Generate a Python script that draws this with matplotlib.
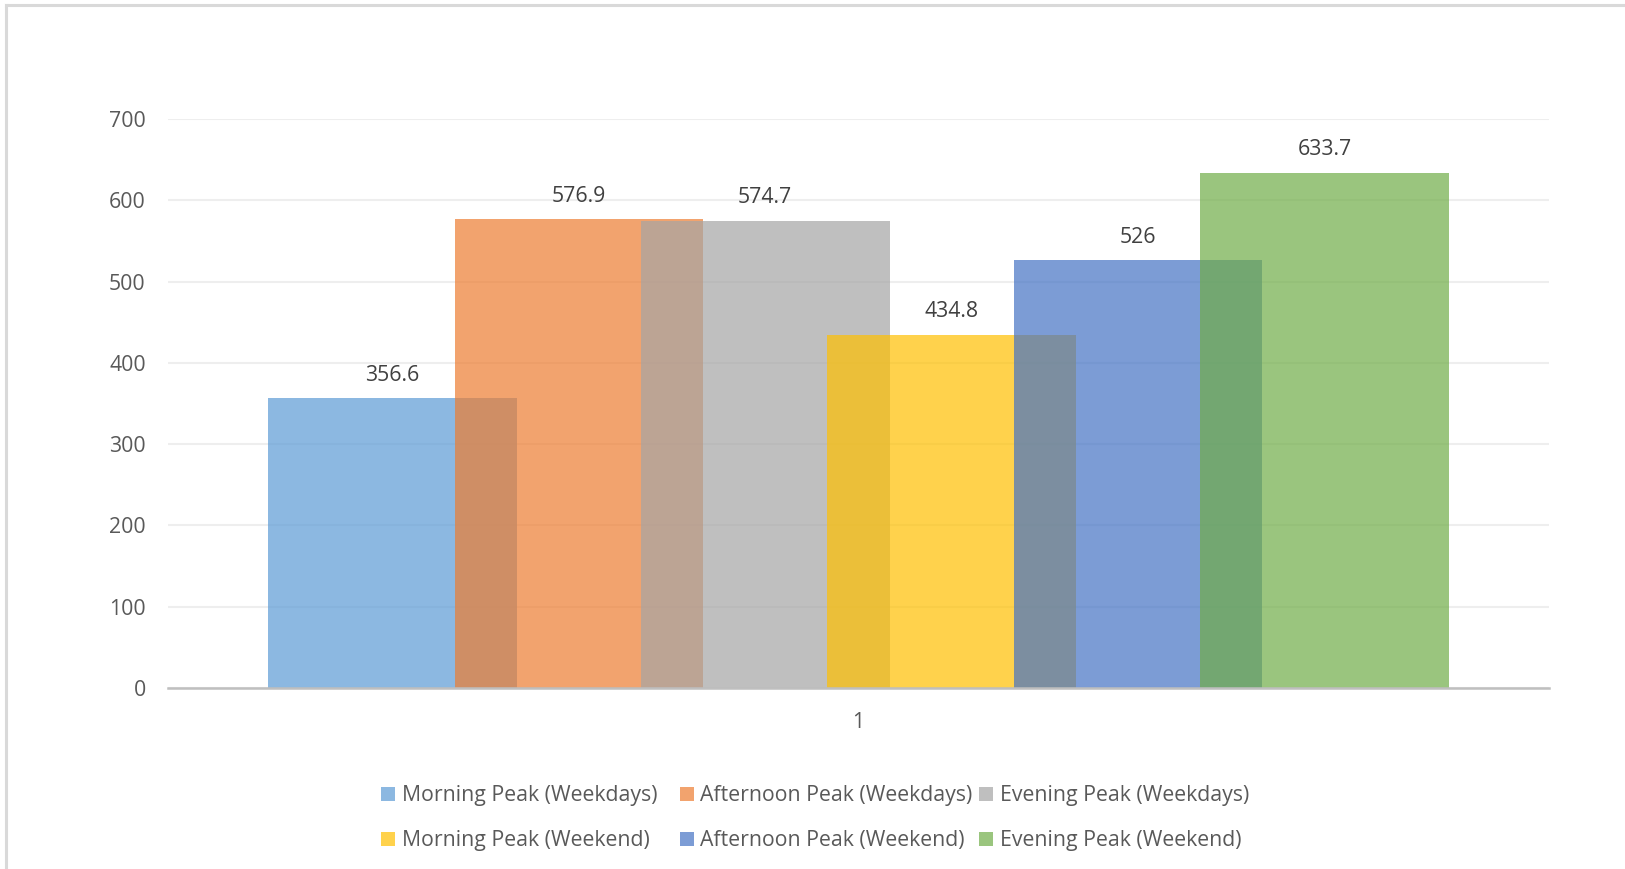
import matplotlib.pyplot as plt
from matplotlib.lines import Line2D

plt.rcParams['font.family'] = ['Open Sans', 'DejaVu Sans']

# peak-hour values, one category
series_names = ['Morning Peak (Weekdays)', 'Afternoon Peak (Weekdays)', 'Evening Peak (Weekdays)',
                'Morning Peak (Weekend)', 'Afternoon Peak (Weekend)', 'Evening Peak (Weekend)']
values = [356.6, 576.9, 574.7, 434.8, 526, 633.7]
colors = ['#5B9BD5', '#ED7D31', '#A5A5A5', '#FFC000', '#4472C4', '#70AD47']
category = ['1']
y_ticks = [0, 100, 200, 300, 400, 500, 600, 700]

fs = 15.3

fig = plt.figure(figsize=(16.25, 8.69), dpi=100)
ax = fig.add_axes([0.1034, 0.2083, 0.8498, 0.6548])

bar_w = 0.18
step = 0.135
bars = []
for i, (name, v, c) in enumerate(zip(series_names, values, colors)):
    x = (i - 2.5) * step
    b = ax.bar(x, v, width=bar_w, color=c, alpha=0.7, label=name, zorder=2, linewidth=0)
    bars.append(b)
    ax.annotate(f'{v:g}', (x, v), xytext=(0, 9), textcoords='offset points',
                ha='center', va='bottom', fontsize=fs, color='#404040')

ax.set_xlim(-0.5, 0.5)
ax.set_ylim(0, 700)
ax.set_yticks(y_ticks)
ax.set_xticks([0])
ax.set_xticklabels(category)
ax.tick_params(axis='both', length=0, labelsize=fs, labelcolor='#595959')
ax.tick_params(axis='y', pad=16)
ax.tick_params(axis='x', pad=17)
ax.yaxis.grid(True, color='#EEEEEE', linewidth=1.5, zorder=0)
ax.set_axisbelow(True)
for side in ['top', 'right', 'left']:
    ax.spines[side].set_visible(False)
ax.spines['bottom'].set_color('#BFBFBF')
ax.spines['bottom'].set_linewidth(1.8)
ax.spines['bottom'].set_zorder(3)

# legend: three equal-width columns, weekdays on top, weekend below
col_x = [0.2347, 0.4184, 0.6027]
for j, x0 in enumerate(col_x):
    fig.legend([bars[j], bars[j + 3]], [series_names[j], series_names[j + 3]],
               loc='center left', bbox_to_anchor=(x0, 0.0585), borderpad=0,
               borderaxespad=0, frameon=False, fontsize=fs, labelcolor='#595959',
               handlelength=0.65, handleheight=0.65, handletextpad=0.3,
               labelspacing=1.12)

# outer chart border (left and top edges)
fig.add_artist(Line2D([0.0037, 0.0037], [0, 0.9942], color='#D9D9D9', linewidth=2.2))
fig.add_artist(Line2D([0.0037, 1.0], [0.9942, 0.9942], color='#D9D9D9', linewidth=2.2))

fig.savefig('out.png', dpi=100, facecolor='white')
